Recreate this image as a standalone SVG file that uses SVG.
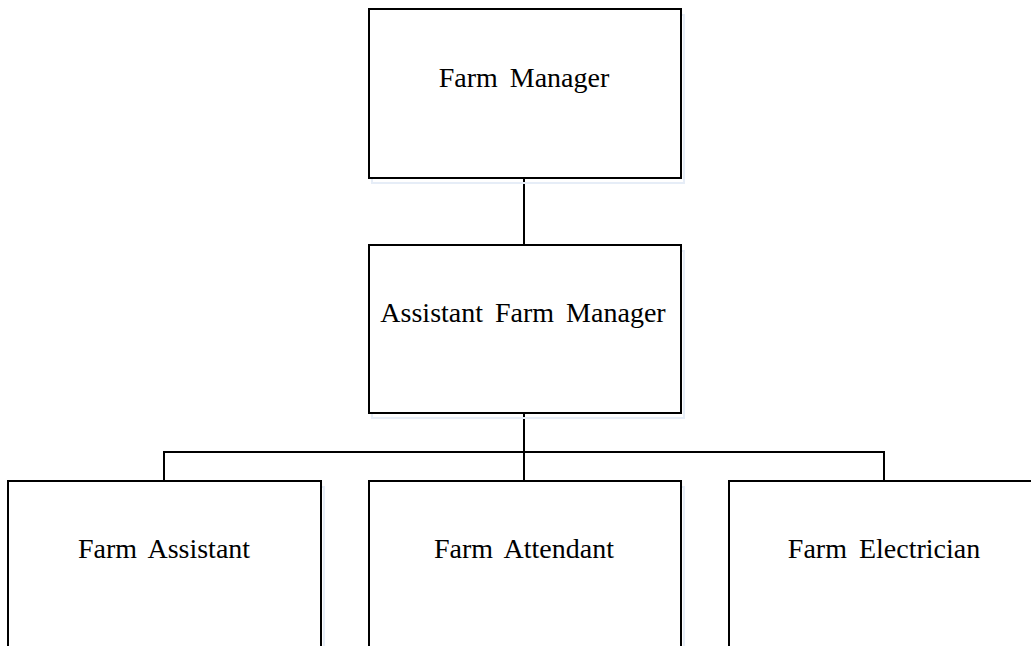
<svg xmlns="http://www.w3.org/2000/svg" width="1031" height="646" viewBox="0 0 1031 646">
<style>
.box{fill:#ffffff;stroke:#000000;stroke-width:2}
.shadow{fill:none;stroke:#e6edf7;stroke-width:2}
.lbl{font-family:"Liberation Serif","DejaVu Serif",serif;font-size:28px;fill:#000000;text-anchor:middle;word-spacing:5px}
.conn{fill:none;stroke:#000000;stroke-width:2}
</style>
<rect width="1031" height="646" fill="#ffffff"/>
<g id="connectors">
<line class="conn" x1="524" y1="178" x2="524" y2="245"/>
<line class="conn" x1="524" y1="413" x2="524" y2="481"/>
<polyline class="conn" points="164,481 164,452 884,452 884,481"/>
</g>
<g id="farm-manager">
<rect class="shadow" x="372" y="15" width="312" height="168"/>
<rect class="box" x="369" y="9" width="312" height="169"/>
<text class="lbl" x="524" y="87">Farm Manager</text>
</g>
<g id="assistant-farm-manager">
<rect class="shadow" x="372" y="251" width="312" height="167"/>
<rect class="box" x="369" y="245" width="312" height="168"/>
<text class="lbl" x="523" y="322">Assistant Farm Manager</text>
</g>
<g id="farm-assistant">
<rect class="shadow" x="11" y="487" width="313" height="200"/>
<rect class="box" x="8" y="481" width="313" height="200"/>
<text class="lbl" x="164" y="558">Farm Assistant</text>
</g>
<g id="farm-attendant">
<rect class="shadow" x="372" y="487" width="312" height="200"/>
<rect class="box" x="369" y="481" width="312" height="200"/>
<text class="lbl" x="524" y="558">Farm Attendant</text>
</g>
<g id="farm-electrician">
<rect class="shadow" x="732" y="487" width="313" height="200"/>
<rect class="box" x="729" y="481" width="313" height="200"/>
<text class="lbl" x="884" y="558">Farm Electrician</text>
</g>
</svg>
